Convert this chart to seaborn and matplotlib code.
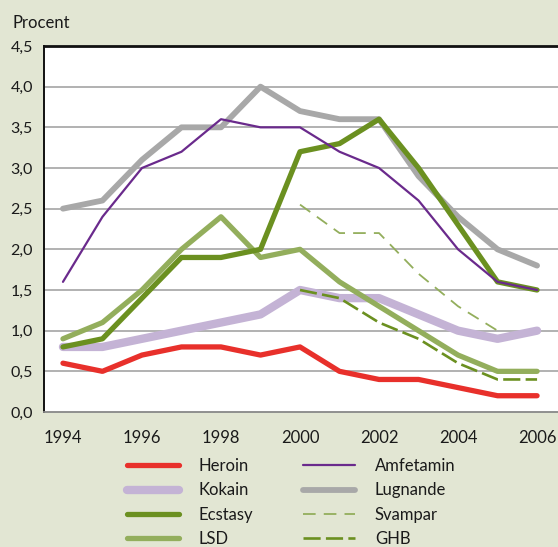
import matplotlib
matplotlib.use("Agg")
import matplotlib.pyplot as plt
import seaborn as sns
import pandas as pd
import numpy as np

years = list(range(1994, 2007))
heroin = [0.6, 0.5, 0.7, 0.8, 0.8, 0.7, 0.8, 0.5, 0.4, 0.4, 0.3, 0.2, 0.2]
kokain = [0.8, 0.8, 0.9, 1.0, 1.1, 1.2, 1.5, 1.4, 1.4, 1.2, 1.0, 0.9, 1.0]
ecstasy = [0.8, 0.9, 1.4, 1.9, 1.9, 2.0, 3.2, 3.3, 3.6, 3.0, 2.3, 1.6, 1.5]
lsd = [0.9, 1.1, 1.5, 2.0, 2.4, 1.9, 2.0, 1.6, 1.3, 1.0, 0.7, 0.5, 0.5]
amfetamin = [1.6, 2.4, 3.0, 3.2, 3.6, 3.5, 3.5, 3.2, 3.0, 2.6, 2.0, 1.6, 1.5]
lugnande = [2.5, 2.6, 3.1, 3.5, 3.5, 4.0, 3.7, 3.6, 3.6, 2.9, 2.4, 2.0, 1.8]
svampar_years = [2000, 2001, 2002, 2003, 2004, 2005]
svampar = [2.55, 2.2, 2.2, 1.7, 1.3, 1.0]
ghb_years = [2000, 2001, 2002, 2003, 2004, 2005, 2006]
ghb = [1.5, 1.4, 1.1, 0.9, 0.6, 0.4, 0.4]

y_ticks = [0.0, 0.5, 1.0, 1.5, 2.0, 2.5, 3.0, 3.5, 4.0, 4.5]
y_labels = ["0,0", "0,5", "1,0", "1,5", "2,0", "2,5", "3,0", "3,5", "4,0", "4,5"]
x_major = [1994, 1996, 1998, 2000, 2002, 2004, 2006]

sns.set_style("white")
plt.rcParams["font.family"] = ["Lato", "DejaVu Sans"]

BG = "#e2e6d3"
fig = plt.figure(figsize=(5.58, 5.47), dpi=100, facecolor=BG)
ax = fig.add_axes([44 / 558, 1 - 412 / 547, 1 - 44 / 558, (412 - 46) / 547])
ax.set_facecolor("white")

# gridlines
for yv in y_ticks[1:-1]:
    ax.axhline(yv, color="#9c9c9c", lw=1.1, zorder=1)

series = [
    # name, x, y, color, lw, dashes, zorder
    ("Kokain", years, kokain, "#c4b3d5", 6.0, None, 2),
    ("Heroin", years, heroin, "#e8302b", 3.8, None, 3),
    ("LSD", years, lsd, "#93ae5c", 3.8, None, 3),
    ("Lugnande", years, lugnande, "#a8a8a8", 4.2, None, 3),
    ("Ecstasy", years, ecstasy, "#6b9020", 3.8, None, 4),
    ("GHB", ghb_years, ghb, "#6b9020", 1.9, (6.5, 2.0), 5),
    ("Svampar", svampar_years, svampar, "#93ae5c", 1.3, (7.0, 4.5), 5),
    ("Amfetamin", years, amfetamin, "#6a2a8c", 1.6, None, 6),
]
handles = {}
for name, xs, ys, col, lw, dsh, z in series:
    sns.lineplot(x=xs, y=ys, ax=ax, color=col, lw=lw, zorder=z,
                 solid_capstyle="round", dash_capstyle="butt", label=name)
    line = ax.get_lines()[-1]
    if dsh is not None:
        line.set_dashes(dsh)
    handles[name] = line

if ax.legend_ is not None:
    ax.legend_.remove()

ax.set_xlim(1993.52, 2006.53)
ax.set_ylim(0, 4.5)
ax.set_yticks(y_ticks)
ax.set_yticklabels(y_labels)
ax.set_xticks(x_major)
ax.set_xticks([y for y in years if y not in x_major], minor=True)
ax.set_xticklabels([str(v) for v in x_major])
ax.tick_params(axis="x", which="major", direction="in", length=9, width=1.3,
               color="black", pad=13, labelsize=12, labelcolor="#1a1a1a")
ax.tick_params(axis="x", which="minor", direction="in", length=3.5, width=1.3,
               color="black")
ax.tick_params(axis="y", length=0, pad=8, labelsize=11.5, labelcolor="#1a1a1a")

ax.spines["right"].set_visible(False)
ax.spines["top"].set_color("#111111")
ax.spines["top"].set_linewidth(2.0)
ax.spines["left"].set_color("#111111")
ax.spines["left"].set_linewidth(1.4)
ax.spines["bottom"].set_color("#888888")
ax.spines["bottom"].set_linewidth(1.3)
ax.set_xlabel("")
ax.set_ylabel("")

fig.text(13 / 558, 1 - 28 / 547, "Procent", fontsize=12, color="#1a1a1a",
         ha="left", va="baseline")

order = ["Heroin", "Kokain", "Ecstasy", "LSD", "Amfetamin", "Lugnande", "Svampar", "GHB"]
leg = fig.legend([handles[n] for n in order], order, ncol=2, frameon=False,
                 loc="upper left", bbox_to_anchor=(127 / 558, 1 - 458 / 547),
                 fontsize=12, handlelength=3.1, handletextpad=1.2,
                 columnspacing=3.0, labelspacing=0.5, borderpad=0,
                 borderaxespad=0)
for t in leg.get_texts():
    t.set_color("#1a1a1a")

fig.savefig("out.png", dpi=100, facecolor=BG)
